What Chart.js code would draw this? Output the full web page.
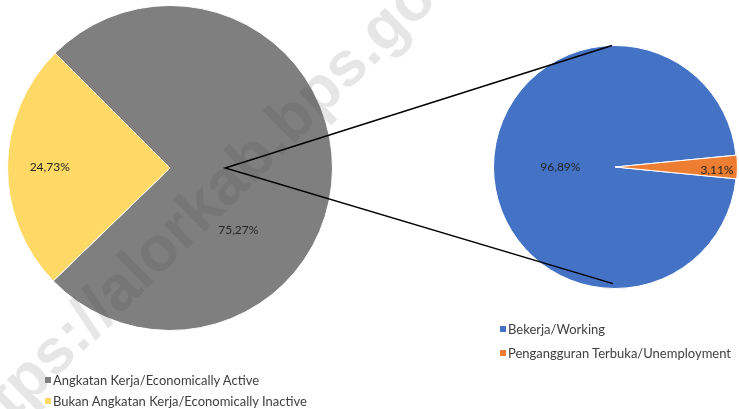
<!DOCTYPE html>
<html>
<head>
<meta charset="utf-8">
<script src="https://cdn.jsdelivr.net/npm/chart.js@4.4.0/dist/chart.umd.min.js"></script>
<style>
  body { margin: 0; background: #fff; }
  #wrap { position: relative; width: 739px; height: 409px; overflow: hidden; font-family: Lato, "Open Sans", sans-serif; }
  #wrap canvas { position: absolute; left: 0; top: 0; }
  .legend { position: absolute; font-size: 13px; color: #404040; }
  .legend div { display: flex; align-items: center; height: 21px; white-space: nowrap; }
  #legendSub div { height: 24px; }
  .legend span { display: inline-block; width: 6px; height: 6px; margin-right: 2px; }
</style>
</head>
<body>
<div id="wrap">
  <canvas id="mainPie" width="739" height="409"></canvas>
  <canvas id="subPie" width="739" height="409"></canvas>
  <div class="legend" id="legendMain" style="left:45px; top:369px;"></div>
  <div class="legend" id="legendSub" style="left:500px; top:317px;"></div>
</div>
<script>
// data
const mainLabels = ['Angkatan Kerja/Economically Active', 'Bukan Angkatan Kerja/Economically Inactive'];
const mainValues = [75.27, 24.73];
const mainColors = ['#7f7f7f', '#ffd966'];

const subLabels = ['Bekerja/Working', 'Pengangguran Terbuka/Unemployment'];
const subValues = [96.89, 3.11];
const subColors = ['#4472c4', '#ed7d31'];

const fmt = v => v.toFixed(2).replace('.', ',') + '%';

// where to put value labels: [angle offset from slice middle (deg), fraction of radius]
const mainLabelPos = [[42, 0.57], [0, 0.74]];
const subLabelPos = [[0, 0.45], [2, 0.84]];

function valueLabels(labelPos) {
    return {
        id: 'valueLabels',
        afterDatasetsDraw(chart) {
            const c = chart.ctx;
            const meta = chart.getDatasetMeta(0);
            c.save();
            c.font = '12px Lato, "Open Sans", sans-serif';
            c.fillStyle = '#262626';
            c.textAlign = 'center';
            c.textBaseline = 'middle';
            meta.data.forEach((arc, i) => {
                const mid = (arc.startAngle + arc.endAngle) / 2 + labelPos[i][0] * Math.PI / 180;
                const r = arc.outerRadius * labelPos[i][1];
                c.fillText(fmt(chart.data.datasets[0].data[i]), arc.x + Math.cos(mid) * r, arc.y + Math.sin(mid) * r);
            });
            c.restore();
        }
    };
}

const mainChart = new Chart(document.getElementById('mainPie').getContext('2d'), {
    type: 'pie',
    data: {
        labels: mainLabels,
        datasets: [{
            data: mainValues,
            backgroundColor: mainColors,
            borderColor: '#ffffff',
            borderWidth: 1
        }]
    },
    options: {
        responsive: false,
        animation: false,
        rotation: 315,
        layout: { padding: { left: 7, right: 406, top: 5, bottom: 78 } },
        plugins: { legend: { display: false }, tooltip: { enabled: false } }
    },
    plugins: [valueLabels(mainLabelPos)]
});

// connector lines and watermark, drawn over the second pie
const connectors = {
    id: 'connectors',
    afterDraw(chart) {
        const c = chart.ctx;
        const a = mainChart.getDatasetMeta(0).data[0];
        const b = chart.getDatasetMeta(0).data[0];
        const sx = a.x + a.outerRadius * 0.34, sy = a.y;
        c.save();
        c.strokeStyle = '#000';
        c.lineWidth = 1.5;
        c.beginPath();
        c.moveTo(b.x - 3, b.y - b.outerRadius);
        c.lineTo(sx, sy);
        c.lineTo(b.x - 2, b.y + b.outerRadius * 0.96);
        c.stroke();

        // watermark, anchored on the "k"
        const wm = 'https://alorkab.bps.go.id';
        c.font = 'bold 63px "Liberation Sans", Arial, sans-serif';
        const pre = c.measureText('https://alor').width;
        const kw = c.measureText('k').width;
        c.translate(202, 210);
        c.rotate(-44.5 * Math.PI / 180);
        c.fillStyle = 'rgba(60,60,60,0.13)';
        c.textAlign = 'left';
        c.textBaseline = 'middle';
        c.fillText(wm, -pre - kw / 2, 0);
        c.restore();
    }
};

new Chart(document.getElementById('subPie').getContext('2d'), {
    type: 'pie',
    data: {
        labels: subLabels,
        datasets: [{
            data: subValues,
            backgroundColor: subColors,
            borderColor: '#ffffff',
            borderWidth: 1,
            offset: [0, 2]
        }]
    },
    options: {
        responsive: false,
        animation: false,
        rotation: 95.6,
        layout: { padding: { left: 492, right: 1, top: 44, bottom: 119 } },
        plugins: { legend: { display: false }, tooltip: { enabled: false } }
    },
    plugins: [valueLabels(subLabelPos), connectors]
});

function buildLegend(id, labels, colors) {
    const el = document.getElementById(id);
    labels.forEach((l, i) => {
        const row = document.createElement('div');
        row.innerHTML = '<span style="background:' + colors[i] + '"></span>' + l;
        el.appendChild(row);
    });
}
buildLegend('legendMain', mainLabels, mainColors);
buildLegend('legendSub', subLabels, subColors);
</script>
</body>
</html>
